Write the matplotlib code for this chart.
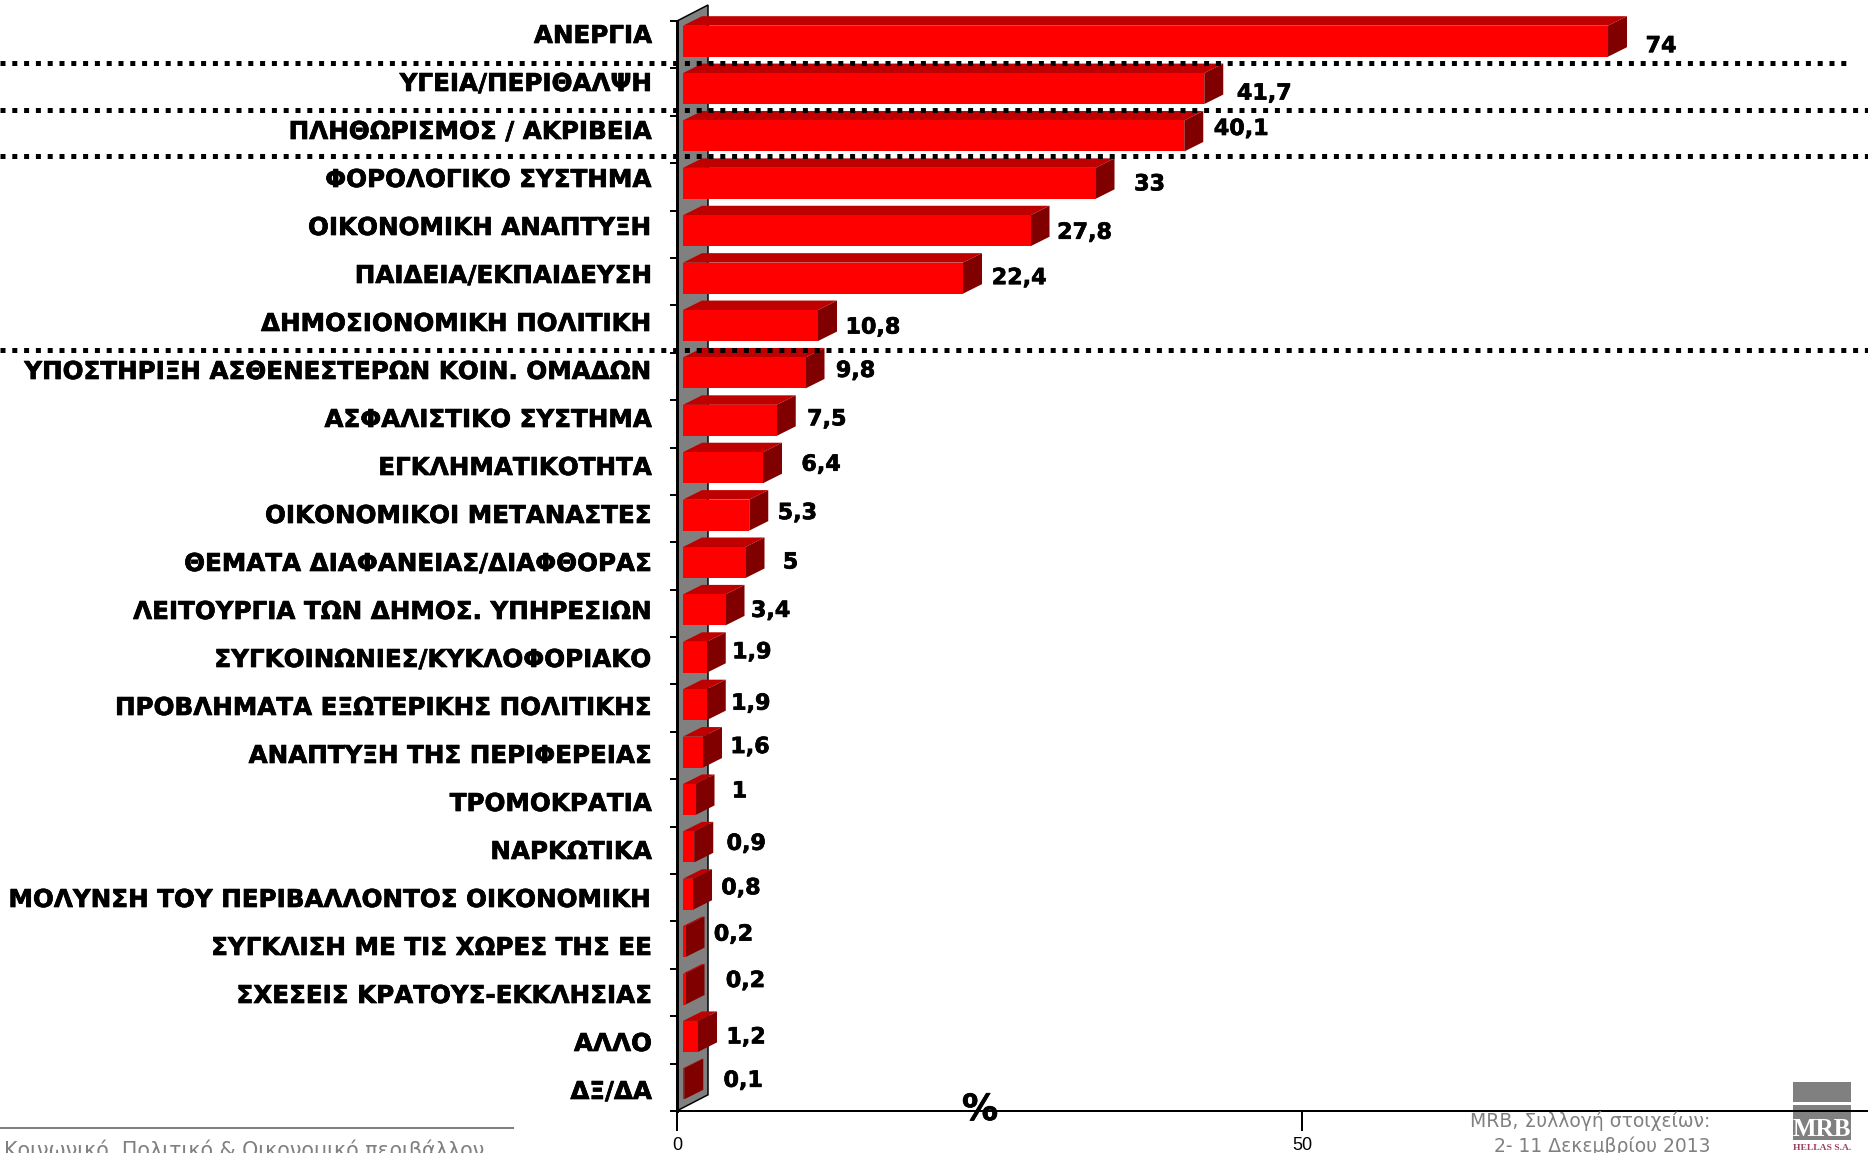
import matplotlib
matplotlib.use("Agg")
import matplotlib.pyplot as plt
import matplotlib.patheffects as pe
from matplotlib.patches import Polygon, Rectangle
from matplotlib.transforms import blended_transform_factory

categories = ["ΑΝΕΡΓΙΑ", "ΥΓΕΙΑ/ΠΕΡΙΘΑΛΨΗ", "ΠΛΗΘΩΡΙΣΜΟΣ / ΑΚΡΙΒΕΙΑ", "ΦΟΡΟΛΟΓΙΚΟ ΣΥΣΤΗΜΑ",
              "ΟΙΚΟΝΟΜΙΚΗ ΑΝΑΠΤΥΞΗ", "ΠΑΙΔΕΙΑ/ΕΚΠΑΙΔΕΥΣΗ", "ΔΗΜΟΣΙΟΝΟΜΙΚΗ ΠΟΛΙΤΙΚΗ",
              "ΥΠΟΣΤΗΡΙΞΗ ΑΣΘΕΝΕΣΤΕΡΩΝ ΚΟΙΝ. ΟΜΑΔΩΝ", "ΑΣΦΑΛΙΣΤΙΚΟ ΣΥΣΤΗΜΑ", "ΕΓΚΛΗΜΑΤΙΚΟΤΗΤΑ",
              "ΟΙΚΟΝΟΜΙΚΟΙ ΜΕΤΑΝΑΣΤΕΣ", "ΘΕΜΑΤΑ ΔΙΑΦΑΝΕΙΑΣ/ΔΙΑΦΘΟΡΑΣ",
              "ΛΕΙΤΟΥΡΓΙΑ ΤΩΝ ΔΗΜΟΣ. ΥΠΗΡΕΣΙΩΝ", "ΣΥΓΚΟΙΝΩΝΙΕΣ/ΚΥΚΛΟΦΟΡΙΑΚΟ",
              "ΠΡΟΒΛΗΜΑΤΑ ΕΞΩΤΕΡΙΚΗΣ ΠΟΛΙΤΙΚΗΣ", "ΑΝΑΠΤΥΞΗ ΤΗΣ ΠΕΡΙΦΕΡΕΙΑΣ", "ΤΡΟΜΟΚΡΑΤΙΑ",
              "ΝΑΡΚΩΤΙΚΑ", "ΜΟΛΥΝΣΗ ΤΟΥ ΠΕΡΙΒΑΛΛΟΝΤΟΣ ΟΙΚΟΝΟΜΙΚΗ", "ΣΥΓΚΛΙΣΗ ΜΕ ΤΙΣ ΧΩΡΕΣ ΤΗΣ ΕΕ",
              "ΣΧΕΣΕΙΣ ΚΡΑΤΟΥΣ-ΕΚΚΛΗΣΙΑΣ", "ΑΛΛΟ", "ΔΞ/ΔΑ"]
values = [74, 41.7, 40.1, 33, 27.8, 22.4, 10.8, 9.8, 7.5, 6.4, 5.3, 5, 3.4, 1.9, 1.9, 1.6, 1, 0.9, 0.8, 0.2, 0.2, 1.2, 0.1]
value_text = ["74", "41,7", "40,1", "33", "27,8", "22,4", "10,8", "9,8", "7,5", "6,4", "5,3", "5", "3,4",
              "1,9", "1,9", "1,6", "1", "0,9", "0,8", "0,2", "0,2", "1,2", "0,1"]
x_ticks = [0, 50]
separators_after = [0.45, 1.46, 2.42, 6.52]

# hand placement of the value labels, pixels from bar tip (right, down)
label_dx = [34, 41, 38, 35, 35, 37, 36, 31, 31, 39, 29, 26, 26, 26, 25, 28, 25, 33, 29, 29, 41, 29, 40]
label_dy = [5, 5, -7, 1, 2, 0, 2, -2, -1, -3, -2, 0, 1, -5, -1, -5, -8, -3, -6, -7, -8, 1, -3]

W, H = 1868, 1153
PX_UNIT = 12.5
PX_ROW = 47.4
ROW0 = 41.2
X0 = 677
BASE = 1111
px = 72 / 100
heavy = [pe.withStroke(linewidth=0.5, foreground="black")]

plt.rcParams["font.family"] = ["DejaVu Sans"]
fig = plt.figure(figsize=(W / 100, H / 100), dpi=100, facecolor="white")
ax = fig.add_axes([X0 / W, 1 - BASE / H, (W - X0) / W, BASE / H])
ax.set_xlim(0, (W - X0) / PX_UNIT)
ax.set_ylim((BASE - ROW0) / PX_ROW, (0 - ROW0) / PX_ROW)
ax.patch.set_alpha(0)

for s in ("top", "right"):
    ax.spines[s].set_visible(False)
first_tick = (21 - ROW0) / PX_ROW
last_tick = (BASE - ROW0) / PX_ROW
ax.spines["left"].set_bounds(last_tick, first_tick)
ax.spines["left"].set_linewidth(3 * px)
ax.spines["bottom"].set_linewidth(2 * px)
ax.set_xticks(x_ticks)
ax.tick_params(axis="x", length=20 * px, width=2 * px, labelsize=13, pad=4.5)
for lab in ax.get_xticklabels():
    lab.set_family("Liberation Sans")
ax.set_yticks([first_tick + k for k in range(24)])
ax.set_yticklabels([])
ax.tick_params(axis="y", length=7 * px, width=2 * px)

# wall
wdx, wdy = 31 / PX_UNIT, 16 / PX_ROW
ax.add_patch(Polygon([(0, first_tick), (wdx, first_tick - wdy), (wdx, last_tick - wdy), (0, last_tick)],
                     closed=True, facecolor="#808080", edgecolor="black", linewidth=1.5 * px,
                     clip_on=False, zorder=1))

# 3D bars
off = 6 / PX_UNIT
ddx, ddy = 19 / PX_UNIT, 9.5 / PX_ROW
hh = 15.5 / PX_ROW
for i, v in enumerate(values):
    l, r = off, off + v
    t, b = i - hh, i + hh
    ax.add_patch(Polygon([(l, t), (l + ddx, t - ddy), (r + ddx, t - ddy), (r, t)],
                         facecolor="#BF0000", edgecolor="none", clip_on=False, zorder=2))
    ax.add_patch(Polygon([(r, t), (r + ddx, t - ddy), (r + ddx, b - ddy), (r, b)],
                         facecolor="#800000", edgecolor="none", clip_on=False, zorder=2))
    ax.add_patch(Rectangle((l, t), v, 2 * hh, facecolor="#FF0000", edgecolor="none", clip_on=False, zorder=3))
    ax.annotate(value_text[i], xy=(r + ddx, i), xytext=(label_dx[i] * px, -label_dy[i] * px),
                textcoords="offset points", ha="center", va="center", fontsize=16,
                fontweight="bold", color="black", zorder=6, annotation_clip=False, path_effects=heavy)

# category labels
for i, c in enumerate(categories):
    fig.text(652 / W, 1 - (36 + 48.0 * i) / H, c, ha="right", va="center", fontsize=17.7,
             fontweight="bold", color="black", path_effects=heavy)

# separators
tr = blended_transform_factory(fig.transFigure, ax.transData)
for j, y in enumerate(separators_after):
    xend = 1852 / W if j == 0 else 1
    ax.plot([0, xend], [y, y], transform=tr, color="black", linewidth=5 * px,
            linestyle=(0, (1, 1.36)), dash_capstyle="butt", clip_on=False, zorder=7)

# axis title
fig.text(980 / W, 1 - 1110 / H, "%", ha="center", va="center", fontsize=26, fontweight="bold", color="black",
         path_effects=heavy)

# footers
GREY = "#808080"
fig.add_artist(plt.Line2D([0, 513 / W], [1 - 1128 / H] * 2, color=GREY, linewidth=2 * px))
fig.text(4 / W, 1 - 1150 / H, "Κοινωνικό, Πολιτικό & Οικονομικό περιβάλλον", ha="left", va="center",
         fontsize=14.9, color=GREY)
fig.text(1710 / W, 1 - 1121 / H, "MRB, Συλλογή στοιχείων:", ha="right", va="center", fontsize=13.5, color=GREY)
fig.text(1710 / W, 1 - 1146 / H, "2- 11 Δεκεμβρίου 2013", ha="right", va="center", fontsize=13.5, color=GREY)

# logo
for top, bot in ((1082, 1102), (1105, 1140)):
    fig.add_artist(Rectangle((1793 / W, 1 - bot / H), 58 / W, (bot - top) / H,
                             transform=fig.transFigure, facecolor=GREY, edgecolor="none", zorder=0))
fig.text(1822 / W, 1 - 1129 / H, "MRB", ha="center", va="center", fontsize=18, fontweight="bold",
         family="Liberation Serif", color="white")
fig.text(1822 / W, 1 - 1148 / H, "HELLAS S.A.", ha="center", va="center", fontsize=6.8, fontweight="bold",
         family="Liberation Serif", color="#A04060")

fig.savefig("out.png", dpi=100)
